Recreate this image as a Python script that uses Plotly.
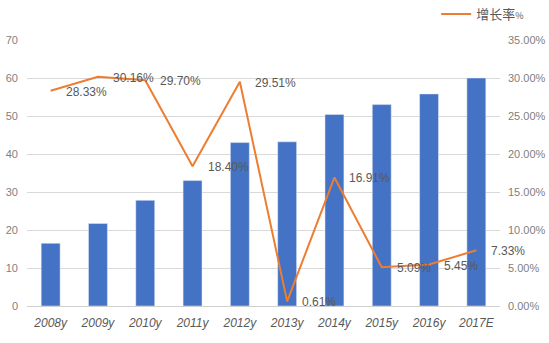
import plotly.graph_objects as go

categories = ["2008y", "2009y", "2010y", "2011y", "2012y", "2013y", "2014y", "2015y", "2016y", "2017E"]
bar_values = [16.5, 21.7, 27.8, 33.0, 43.0, 43.2, 50.4, 53.0, 55.8, 60.0]
growth_rate = [28.33, 30.16, 29.70, 18.40, 29.51, 0.61, 16.91, 5.09, 5.45, 7.33]
left_ticks = [0, 10, 20, 30, 40, 50, 60, 70]
right_ticks = [0, 5, 10, 15, 20, 25, 30, 35]

fig = go.Figure()
fig.add_trace(go.Bar(
    x=categories, y=bar_values, marker_color="#4472C4", showlegend=False,
    name="", hoverinfo="y"))
fig.add_trace(go.Scatter(
    x=categories, y=growth_rate, yaxis="y2", mode="lines",
    line=dict(color="#ED7D31", width=2), cliponaxis=False,
    name="增长率<span style='font-size:9px'>%</span>"))

for c, v in zip(categories, growth_rate):
    fig.add_annotation(
        x=c, y=v, yref="y2", xref="x", text=f"{v:.2f}%", showarrow=False,
        xanchor="left", yanchor="middle", xshift=13, yshift=-1,
        font=dict(size=12, color="#595959", family="Liberation Sans"))

fig.update_layout(
    width=549, height=343,
    margin=dict(l=27, r=49, t=40, b=37, autoexpand=False),
    paper_bgcolor="white", plot_bgcolor="white",
    bargap=0.6,
    font=dict(family="Liberation Sans, Noto Sans CJK SC", color="#7f7f7f", size=11),
    xaxis=dict(tickfont=dict(size=12, family="Liberation Sans", style="italic", color="#595959"),
               showgrid=False, showline=True, linecolor="#d0d0d0", ticks="",
               range=[-0.5, 9.5], autorange=False, ticklabelstandoff=6),
    yaxis=dict(range=[0, 70], tickvals=left_ticks, showgrid=True, gridcolor="#d9d9d9",
               zeroline=False, tickfont=dict(size=11, color="#7f7f7f"),
               ticklabelstandoff=8),
    yaxis2=dict(range=[0, 35], tickvals=right_ticks,
                ticktext=[f"{v:.2f}%" for v in right_ticks],
                overlaying="y", side="right", showgrid=False, zeroline=False,
                tickfont=dict(size=11, color="#7f7f7f"), ticklabelstandoff=7),
    legend=dict(x=0.865, y=1.098, xanchor="left", yanchor="middle", orientation="h",
                font=dict(size=13, color="#595959", family="Noto Sans CJK SC"),
                bgcolor="rgba(0,0,0,0)"),
)
fig.write_html("out.html")
